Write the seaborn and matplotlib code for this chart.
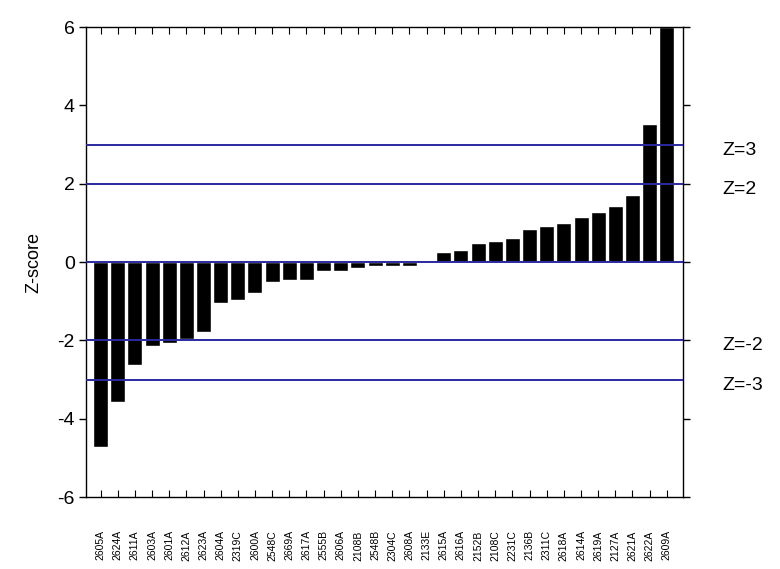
import matplotlib
matplotlib.use("Agg")
import matplotlib.pyplot as plt
import seaborn as sns
import pandas as pd

# Sample identifiers, in ranked order
samples = ["2605A", "2624A", "2611A", "2603A", "2601A", "2612A", "2623A", "2604A",
           "2319C", "2600A", "2548C", "2669A", "2617A", "2555B", "2606A", "2108B",
           "2548B", "2304C", "2608A", "2133E", "2615A", "2616A", "2152B", "2108C",
           "2231C", "2136B", "2311C", "2618A", "2614A", "2619A", "2127A", "2621A",
           "2622A", "2609A"]

# Z-scores for each sample
z_scores = [-4.73, -3.57, -2.64, -2.14, -2.06, -1.97, -1.79, -1.05,
            -0.98, -0.78, -0.51, -0.47, -0.47, -0.23, -0.23, -0.16,
            -0.10, -0.11, -0.10, 0.0, 0.25, 0.30, 0.48, 0.53,
            0.61, 0.84, 0.93, 0.99, 1.15, 1.28, 1.42, 1.70,
            3.52, 6.0]

# Reference thresholds
thresholds = [3, 2, 0, -2, -3]
threshold_labels = ["Z=3", "Z=2", None, "Z=-2", "Z=-3"]
y_ticks = [-6, -4, -2, 0, 2, 4, 6]

df = pd.DataFrame({"sample": samples, "z": z_scores})

sns.set_theme(style="white")
plt.rcParams["font.family"] = ["Liberation Sans", "DejaVu Sans"]
plt.rcParams["text.color"] = "black"
plt.rcParams["axes.labelcolor"] = "black"
plt.rcParams["xtick.color"] = "black"
plt.rcParams["ytick.color"] = "black"

fig = plt.figure(figsize=(7.8, 5.69), dpi=100)
ax = fig.add_axes([0.110, 0.1265, 0.766, 0.826])

sns.barplot(data=df, x="sample", y="z", order=samples, color="black",
            width=0.875, saturation=1, ax=ax, zorder=2)

line_color = "#2a2aa0"
for t in thresholds:
    ax.axhline(t, color=line_color, lw=1.4, zorder=3)

ax.set_xlim(-0.86, 33.96)
ax.set_ylim(-6, 6)
ax.set_yticks(y_ticks)
ax.set_yticklabels([str(v) for v in y_ticks], fontsize=14)
ax.set_ylabel("Z-score", fontsize=13, labelpad=11)
ax.set_xlabel("")
ax.set_xticks(range(len(samples)))
ax.set_xticklabels(samples, rotation=90, fontsize=7.5, va="top")

for s in ax.spines.values():
    s.set_color("black")
    s.set_linewidth(1.0)

ax.tick_params(axis="y", which="both", left=True, right=True, direction="out",
               length=5, width=1, color="black", labelcolor="black",
               labelright=False, pad=3)
ax.tick_params(axis="x", which="both", bottom=True, top=True, direction="in",
               length=5, width=0.8, color="black", labelcolor="black", pad=24)

# Threshold annotations to the right of the plot
for t, lab in zip(thresholds, threshold_labels):
    if lab is None:
        continue
    ax.annotate(lab, xy=(1.0, t), xycoords=("axes fraction", "data"),
                xytext=(28, -4), textcoords="offset points", color="black",
                fontsize=14, ha="left", va="center", annotation_clip=False)

fig.savefig("out.png", dpi=100)
